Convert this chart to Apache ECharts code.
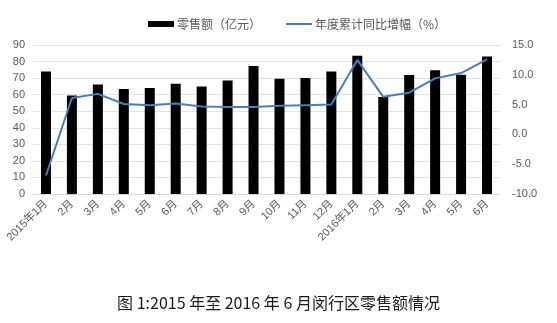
<!DOCTYPE html>
<html>
<head>
<meta charset="utf-8">
<script src="https://cdn.jsdelivr.net/npm/echarts@6/dist/echarts.min.js"></script>
<style>
  html, body { margin: 0; padding: 0; background: #fff; }
  #chart { width: 557px; height: 323px; }
</style>
</head>
<body>
<div id="chart"></div>
<script>
// Monthly retail sales in Minhang district, Jan 2015 – Jun 2016
var months = ['2015年1月', '2月', '3月', '4月', '5月', '6月', '7月', '8月', '9月', '10月', '11月', '12月',
              '2016年1月', '2月', '3月', '4月', '5月', '6月'];
var retailSales = [74, 59.5, 66.2, 63.4, 64, 66.6, 65, 68.6, 77.3, 69.6, 70, 74,
                   83.5, 58.6, 71.9, 74.7, 72, 83.1];
var ytdGrowth = [-6.9, 6.1, 6.8, 5.1, 4.9, 5.2, 4.7, 4.6, 4.6, 4.8, 4.9, 5.0,
                 12.5, 6.3, 7.0, 9.4, 10.3, 12.6];
var leftTicks = { min: 0, max: 90, interval: 10 };
var rightTicks = { min: -10, max: 15, interval: 5 };
var seriesNames = ['零售额（亿元）', '年度累计同比增幅（%）'];
var caption = '图 1:2015 年至 2016 年 6 月闵行区零售额情况';

var fontFamily = '"Liberation Sans", "Noto Sans CJK SC", sans-serif';
var labelColor = '#595959';

var chart = echarts.init(document.getElementById('chart'));
chart.setOption({
  animation: false,
  textStyle: { fontFamily: fontFamily },
  title: {
    text: caption,
    left: 'center',
    top: 290,
    textStyle: { fontFamily: '"Noto Sans CJK SC", sans-serif', fontSize: 16, fontWeight: 'normal', color: '#1a1a1a' }
  },
  legend: {
    top: 13,
    left: 143,
    itemGap: 25,
    itemWidth: 26,
    itemHeight: 6,
    textStyle: { color: labelColor, fontSize: 12, fontFamily: '"Noto Sans CJK SC", sans-serif', padding: [0, 0, 0, -2] },
    data: [
      { name: seriesNames[0], icon: 'rect' },
      { name: seriesNames[1], icon: 'path://M0,0 L26,0 L26,2 L0,2 Z' }
    ]
  },
  grid: { left: 33, right: 57, top: 45, bottom: 129 },
  xAxis: {
    type: 'category',
    data: months,
    axisTick: { show: false },
    axisLine: { show: true, lineStyle: { color: '#d9d9d9' } },
    axisLabel: { rotate: 45, color: labelColor, fontSize: 11, interval: 0, margin: 8 }
  },
  yAxis: [
    {
      type: 'value',
      min: leftTicks.min, max: leftTicks.max, interval: leftTicks.interval,
      axisLine: { show: false }, axisTick: { show: false },
      axisLabel: { color: labelColor, fontSize: 11, margin: 8 },
      splitLine: { lineStyle: { color: '#e3e3e3' } }
    },
    {
      type: 'value',
      min: rightTicks.min, max: rightTicks.max, interval: rightTicks.interval,
      axisLine: { show: false }, axisTick: { show: false },
      axisLabel: { color: labelColor, fontSize: 11, margin: 12,
        formatter: function (v) { return v.toFixed(1); } },
      splitLine: { show: false }
    }
  ],
  series: [
    {
      name: seriesNames[0],
      type: 'bar',
      data: retailSales,
      barWidth: 10,
      itemStyle: { color: '#000' }
    },
    {
      name: seriesNames[1],
      type: 'line',
      yAxisIndex: 1,
      data: ytdGrowth,
      symbol: 'none',
      lineStyle: { color: '#4a7ebb', width: 2 },
      itemStyle: { color: '#4a7ebb' }
    }
  ]
});
</script>
</body>
</html>
